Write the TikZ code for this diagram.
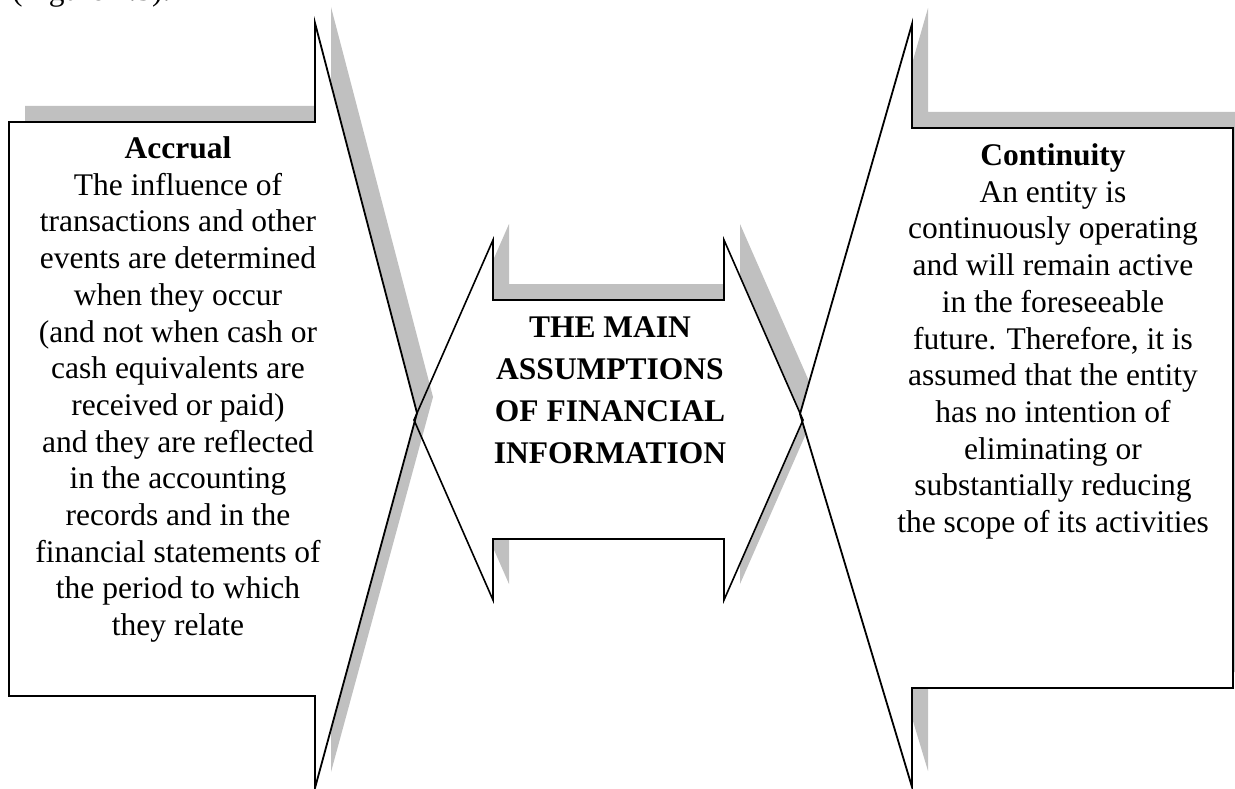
\documentclass[tikz,border=0pt]{standalone}
\usepackage{fontspec}
\setmainfont{Liberation Serif}
\definecolor{shadowgray}{RGB}{192,192,192}
\newcommand\accrualpath{(La) -- (Lb) -- (Lc) -- (Ld) -- (Le) -- (Lf) -- (Lg) -- cycle}
\newcommand\centrepath{(Ca) -- (Cb) -- (Cc) -- (Cd) -- (Ce) -- (Cf) -- (Cg) -- (Ch) -- (Ci) -- (Cj) -- cycle}
\newcommand\continuitypath{(Ra) -- (Rb) -- (Rc) -- (Rd) -- (Re) -- (Rf) -- (Rg) -- cycle}
\begin{document}
\begin{tikzpicture}[x=1pt,y=-1pt,
  outline/.style={draw=black,line width=1.8pt,line join=miter},
  thinoutline/.style={draw=black,line width=1.6pt,line join=miter},
  dropshadow/.style={transform canvas={shift={(16,-16)}}},
  bodytext/.style={font=\fontsize{31.5}{36.7}\selectfont,align=center,inner sep=0pt,anchor=north},
  titletext/.style={font=\fontsize{31.5}{42}\selectfont\bfseries,align=center,inner sep=0pt,anchor=north}]
\useasboundingbox (0,0) rectangle (1235,789);
\clip (0,0) rectangle (1235,789);

% left callout (Accrual)
\coordinate (La) at (9,122);
\coordinate (Lb) at (315,122);
\coordinate (Lc) at (315,23);
\coordinate (Ld) at (417,413);
\coordinate (Le) at (315,788);
\coordinate (Lf) at (315,696);
\coordinate (Lg) at (9,696);
% central double arrow
\coordinate (Ca) at (493,300);
\coordinate (Cb) at (493,240);
\coordinate (Cc) at (414,420);
\coordinate (Cd) at (493,600);
\coordinate (Ce) at (493,539);
\coordinate (Cf) at (724,539);
\coordinate (Cg) at (724,600);
\coordinate (Ch) at (803,420);
\coordinate (Ci) at (724,240);
\coordinate (Cj) at (724,300);
% right callout (Continuity)
\coordinate (Ra) at (912,128);
\coordinate (Rb) at (912,24);
\coordinate (Rc) at (800,414);
\coordinate (Rd) at (912,787);
\coordinate (Re) at (912,688);
\coordinate (Rf) at (1233,688);
\coordinate (Rg) at (1233,128);

% shadows and white bodies
\begin{scope}[dropshadow]\fill[shadowgray] \centrepath;\end{scope}
\fill[white] \centrepath;
\begin{scope}[dropshadow]\fill[shadowgray] \accrualpath;\end{scope}
\fill[white] \accrualpath;
\begin{scope}[dropshadow]\fill[shadowgray] \continuitypath;\end{scope}
\fill[white] \continuitypath;

% outlines
\draw[thinoutline] \centrepath;
\draw[outline] \accrualpath;
\draw[outline] \continuitypath;

% caption line above the figure
\node[anchor=base west,inner sep=0pt,font=\fontsize{31.5}{36}\selectfont] (caption) at (12,1) {(Figure 1.5).};

% texts
\node[bodytext] (accrual) at (178,136.5) {\textbf{Accrual}\\The influence of\\transactions and other\\events are determined\\when they occur\\(and not when cash or\\cash equivalents are\\received or paid)\\and they are reflected\\in the accounting\\records and in the\\financial statements of\\the period to which\\they relate};
\node[titletext] (title) at (610,317) {THE MAIN\\ASSUMPTIONS\\OF FINANCIAL\\INFORMATION};
\node[bodytext] (continuity) at (1053,143.5) {\textbf{Continuity}\\An entity is\\continuously operating\\and will remain active\\in the foreseeable\\future. Therefore, it is\\assumed that the entity\\has no intention of\\eliminating or\\substantially reducing\\the scope of its activities};
\end{tikzpicture}
\end{document}
